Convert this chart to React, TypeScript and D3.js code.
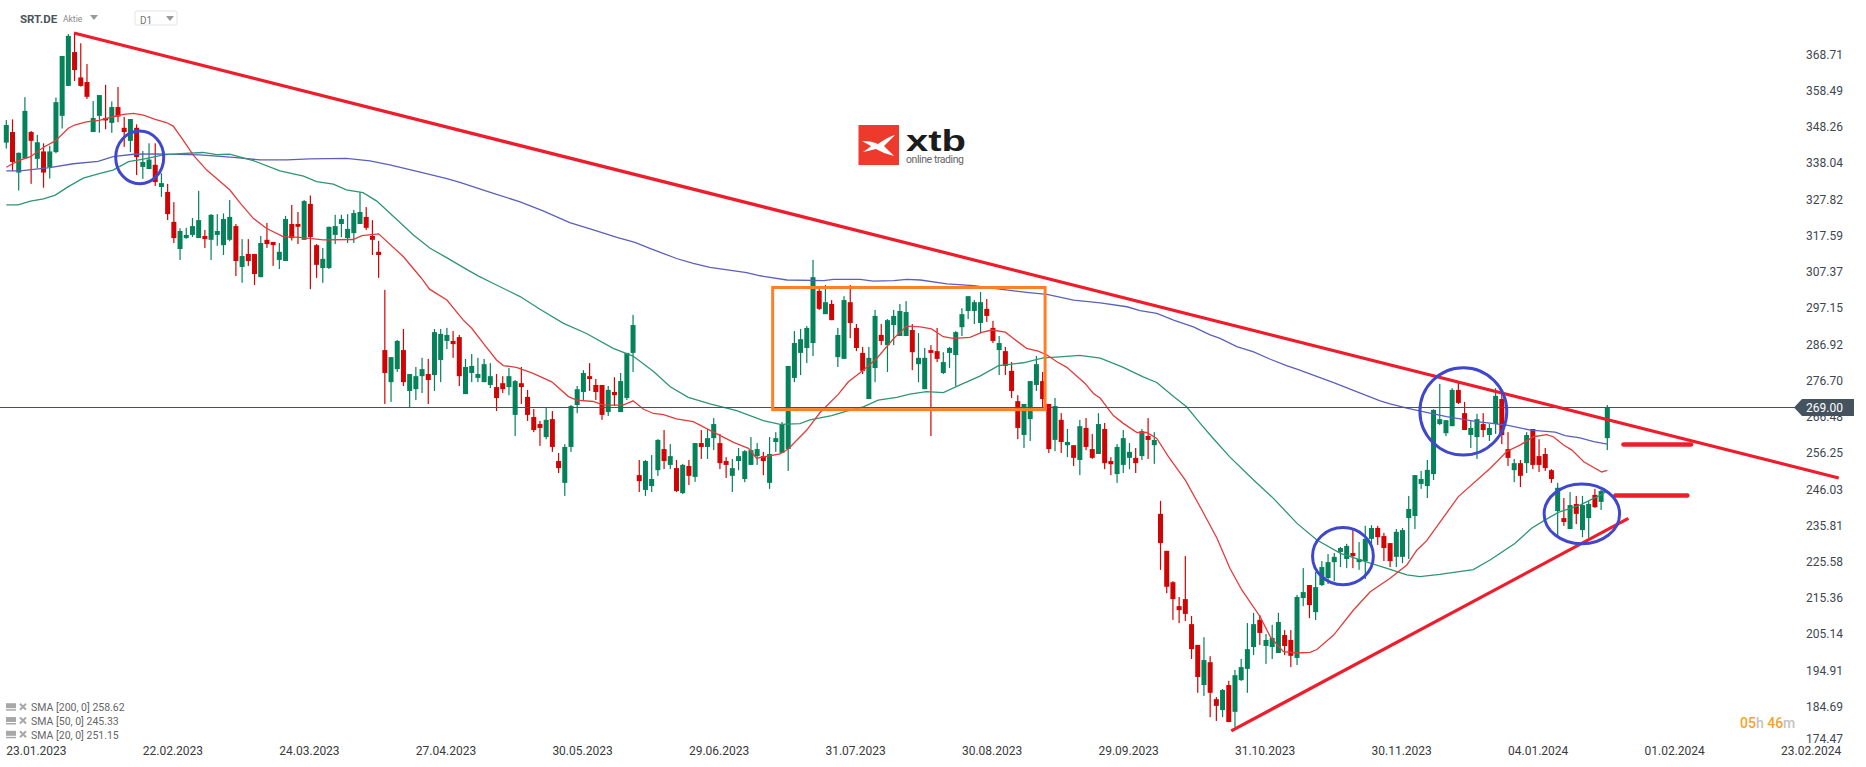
import React, { useEffect, useRef } from 'react';
import * as d3 from 'd3';

const opens = [
  344.2,347.2,335.7,339.7,347.2,339.6,341.7,337.2,341.5,351.8,
  360.3,369.9,362.7,361.4,347.2,351.8,351.2,349.8,354.3,348.4,
  344.7,348.4,337.3,336.7,337.9,331.6,330.2,321.7,314,317.1,
  318,317.1,317.7,316.6,318,315.1,316.6,320.5,308.9,312.6,
  312.6,306,316.6,316,310.9,310.6,321.1,321.1,316.6,326.8,
  315.1,308.6,308.6,318,321.1,317.1,318.5,321.1,323.1,317.7,
  313.2,285.3,276.2,279.9,285.3,273.7,274.2,277.9,278.5,278.2,
  282.5,287.9,287.9,289,272.8,278.8,277.4,276.2,275.4,274.8,
  275.9,274.8,266.9,275.9,272,266.3,264.3,260.6,265.7,253.8,
  247.6,257.8,269.7,273.4,277.9,275.4,275.4,267.7,273.4,267.7,
  271.7,284.5,249.8,245.6,246.7,251.2,257.2,252.7,251.8,244.7,
  252.4,249.3,258.9,257.8,260.3,258.9,253.8,249.6,253.8,248.7,
  252.7,255.2,255.2,247.6,259.2,256.1,257.2,277.4,284.5,285.9,
  287.3,302.1,295.5,298.4,283.3,282.8,298.9,291.6,284.5,271.4,
  280.2,289.6,286.7,292.4,289.3,289.3,291,281.3,274.2,285.3,
  285,278.8,284.5,283.9,291.8,296.4,296.4,293,297,291.6,
  285.3,285,279.4,270.8,261.2,265.7,275.4,276.5,270,259.8,
  265.5,258.3,258.3,254.1,263.2,257.2,255.8,262.9,253.8,250.1,
  252.7,254.7,254.7,255.2,260.9,258.3,238.8,228.3,219.4,212.6,
  214.6,207.5,201.6,190.2,196.7,186.2,183.1,190.2,182.6,191.6,
  194.8,201,208.7,201.3,201,199.3,204.4,203,197.9,214.9,
  218.6,210.9,218.6,220.6,225.1,228,226,227.7,225.1,225.4,
  231.7,234.8,232.5,230.5,226.6,226.6,237.6,238.2,247.3,246.7,
  250.1,264.3,261.7,263.7,274,267.4,261.2,260.6,264.3,261.2,
  264.3,271.4,257.2,251.2,253.2,253.2,262.9,255.2,255.8,251.2,
  239.6,237.6,234.5,241.6,234.2,237.6,244.2,242.2,260.3,
];
const highs = [
  350.6,350.8,341.4,357.1,347.5,346.4,344,343.3,357,368.8,
  375,375.2,372.4,366.5,356,357.7,360.6,355.9,360,351.5,
  350.9,349.4,341.8,344,344,335.5,332.5,327.3,319.9,320,
  322.8,330.5,319.4,323.9,323.9,324.1,327.9,321.1,316.8,316.8,
  312.6,317.7,321.4,316,315.7,323.4,326.5,324.5,327.9,329.2,
  315.4,314.3,320.3,323.7,323.7,323.9,325.1,330.1,325.9,322.2,
  316.3,302.4,283.3,288.2,291.3,278.5,280.5,283.1,282.8,291.3,
  291.3,291.6,290.7,289.6,282.8,284.2,283.1,282.8,281.6,278.5,
  277.9,280.2,276.8,280.5,274,268.6,265.2,268.9,268,256.1,
  258.6,269.7,275.1,279.6,281.6,277.1,275.4,275.1,277.6,278.8,
  284.5,295.3,254.1,254.1,255.5,260,262.6,258.6,254.1,253,
  254.1,258.9,262.6,262.9,266,261.5,254.9,254.4,257.5,256.9,
  260.6,258.9,256.4,260.6,262,264.9,280.8,290.7,291.3,292.1,
  310.9,302.6,303.8,299.5,291.6,300.6,303.8,292.7,286.2,286.2,
  296.7,292.7,294.1,296.7,298.4,299.2,292.7,290.1,285.9,286.7,
  291.6,284.7,286.2,290.7,297.2,300.6,299.5,301.8,299.8,293.6,
  289.3,286.2,281.9,272.5,270,276.5,283.6,279.1,270,271.7,
  267.4,262.9,258.3,265.5,266,261.5,267.4,264.6,254.9,258.6,
  262.6,258.9,257.5,262.9,266,262,242.5,228.3,219.7,215.2,
  226.8,209.8,201.6,203.8,198.4,186.8,189.1,191.4,194.5,197.6,
  207.8,210.7,210.1,204.7,207.3,210.7,205.8,205.8,215.8,223.4,
  218.6,222.3,225.4,227.4,227.7,229.4,230.3,234.2,230.8,235.4,
  235.6,235.4,233.4,230.5,234.5,234.8,243.9,249.8,251,254.1,
  268.5,275.7,265.4,274.5,276.2,270.6,265.2,267.2,267.4,264.3,
  274.5,273,262,254.4,254.1,262,262.9,260,257.5,251.5,
  247.6,243.3,245,243.9,243.9,242.4,245.9,245.6,269.7,
];
const lows = [
  342.5,336.1,330.6,339.7,332.5,336.9,331.4,334,341.2,348.2,
  360.3,361.7,360.1,356.6,347.2,347,348,347,350,343,
  341.5,335,333.9,336.7,331.9,328.8,322.2,315.7,310.9,316.9,
  317.4,317.1,314.3,310.9,314.9,312.3,316.2,306.3,304.4,309.2,
  303.8,306,314.3,309.2,308.3,310.6,316.4,315.4,316.6,302.6,
  305.8,304.4,308.3,315.4,317.4,315.7,315.7,321.1,319.4,312.3,
  305.8,270,270.6,279.1,275.1,269,271.1,273.1,270,273.7,
  276.2,285.6,283.1,275.1,272.8,276.2,276.2,276.2,274.5,268,
  273.1,272.5,260.9,270,265.2,262,258.1,260,256.4,250.4,
  243.9,256.4,267.4,271.1,273.7,271.1,265.5,266.6,269.4,267.7,
  271.1,279.1,245,243.9,245,249.6,251.5,251.5,245,244.4,
  247,247.9,254.4,254.4,256.9,251.5,249,245,251.2,247.8,
  252.7,252.7,249.8,245.9,256.4,256.1,251,276.2,278.2,281.6,
  283.6,296.7,295.5,293.8,280.5,282.8,288.7,285,278.5,271.4,
  276.2,286.7,279.1,286.7,289.3,289.3,279.6,276.2,274.2,260.9,
  281.9,278.5,280.2,275.1,289.3,294.1,292.7,290.1,293.3,287.3,
  278.2,278.2,271.7,260,257.5,259.5,273.7,269,256.1,256.6,
  256.1,254.9,252.4,249.8,256.9,254.4,255.8,251.5,249.8,247.6,
  250.4,251.5,250.4,254.1,254.4,253,222.9,216.3,208.7,207.8,
  208.4,197.6,188,187.1,181.1,180,181.1,179.7,178.3,191.4,
  188,198.7,201.6,196.2,197.6,199.3,198.7,195.3,195.9,212.6,
  209.2,208.7,218.3,218.9,219.7,223.7,223.4,223.4,222.9,220.3,
  230.3,230,225.4,223.7,223.7,224.8,226,234.5,245.9,243.3,
  248.4,264,260.9,263.7,270,262.6,257.5,254.4,260.6,259.5,
  261.5,258.6,252.4,247.8,246.4,250.4,251.5,250.7,251,247.6,
  232.5,235.4,234.5,235.9,232.2,232,240.5,239.9,256.9,
];
const closes = [
  349.2,338.7,341.3,353.2,344.7,344.3,335.7,341.7,355.7,368.8,
  374.5,364.8,360.3,357.2,351.2,357.7,350.5,354.3,351.6,347.2,
  350.9,340.1,338.7,339.4,333,332.7,323.9,317.1,319.1,318,
  320.5,322.2,316.8,323.7,319.1,322.5,323.1,310.6,312,310.6,
  306.9,315.7,315.4,315.1,313.2,322.5,317.1,320.3,327.6,317.4,
  309.5,311.2,320.3,320.5,322.5,319.7,324.2,324.5,320,316.6,
  312.3,278.8,283.3,287.9,276.2,278.5,277.9,279.9,276.8,290.4,
  289.9,289.6,287,277.9,280.5,280.8,278.5,281.3,277.9,271.7,
  274.2,277.9,276.5,274.8,266.9,262.6,263.2,265.5,257.8,251.8,
  257.8,269.4,274.2,278.8,277.1,273.4,266.9,274,272.5,276.5,
  284.5,292.4,248.1,253.8,248.7,259.8,253.8,255.2,245.3,252.7,
  249.6,258.9,257.8,260.3,264.3,253.2,252.7,251.8,255.2,256.6,
  256.9,257.2,253.8,255.8,260.3,264.3,280.8,287.3,288.4,291.6,
  306,297,298.9,293.8,289.6,299.5,293,285.9,279.4,283.1,
  295,287.9,293.8,295,296.4,296.1,284.7,283.1,283.1,284.5,
  282.8,281.9,285.9,290.4,295.5,300.6,298.9,298.9,295,287.9,
  287.3,280.8,273.7,263.2,270,276.5,281.3,271.4,257.2,269.4,
  259.2,259.2,254.7,263.7,257.8,254.7,264.3,253.2,252.9,257.8,
  260.3,256.4,253.2,262.3,259.8,259.8,230.5,218.1,214.6,211.5,
  210.4,200.4,192.5,197.3,188,184.3,188.8,179.7,193,195.3,
  200.4,207.5,205,203,203.6,208.1,201.3,198.5,215.2,216.6,
  212.9,218,223.7,225.1,226.6,229.1,229.7,226.8,226,231.7,
  234.8,232.2,229.1,225.4,233.7,234.2,240.2,249.8,248.7,251.3,
  268.3,265.7,265.4,274,270.3,262.6,263.2,265.7,262.6,263.2,
  272.3,261.2,254.7,253.2,249.6,261.2,252.7,252.7,251.8,248.7,
  246.2,236.5,241.3,238.8,241.3,241.6,240.7,245.3,269,
];

// moving averages as [candle index, price]
const sma20: [number, number][] = [
  [0,337.2],[1.9,339],[3.9,340.2],[6,342.9],[7.9,344.7],[10,348.3],[11,349.2],[12.9,350.1],[15,350.5],[16.9,351.4],
  [18.9,352.2],[20.5,352.5],[22.1,352],[24,350.8],[25.8,349.9],[26.9,348.9],[28.5,344.9],[30.1,340.7],[32.3,336.4],[36,330.8],
  [37.7,327],[39.8,322.7],[41.9,319.9],[44.6,317.5],[47.3,317.3],[51.1,316.6],[55.9,316.7],[57.3,317.8],[60,318.3],[64,311.8],
  [66.9,305.7],[68.2,302.6],[71,299.5],[73.65,293.8],[75,291.5],[77.1,286.7],[79,282.5],[80.1,280.9],[82.2,280.4],[84.9,278.7],
  [87.9,276.3],[90.6,272.1],[91.9,271.1],[94.6,270.7],[96.2,269.7],[99.4,269.7],[101,270.9],[102.7,268.5],[104.3,267.3],[105.9,267],
  [108,265.8],[110.7,265],[113.9,262.1],[117.2,259.1],[119.6,257.4],[120.9,254.6],[124.7,255.8],[126,257.2],[129,262.6],[131.1,267.5],
  [134.1,272.8],[135.7,276.3],[138.1,279.6],[140.3,283],[143,288.6],[145.1,292.1],[147.3,291.9],[149.1,291.3],[151,289.1],[152.6,288.6],
  [155.3,288.9],[157.2,290.3],[158.8,291],[161,290.4],[162.3,288.6],[164.4,285.8],[166.3,285],[167.7,283.9],[169.3,282],[170.9,280.4],
  [173.8,275.9],[175.2,273],[176.3,271.6],[178.4,266.7],[180,264.5],[182.2,261.9],[183.8,261.9],[185.4,260.2],[187.3,255],[190,248.4],
  [192.6,240.1],[195.1,231.9],[197.2,223.3],[199.1,217.2],[202.05,209.6],[203.7,203.9],[205.8,199.7],[208,199.3],[210.1,199.5],[211.2,200.3],
  [213.9,204.4],[217.1,211.5],[219.8,216.7],[223,220.5],[225.7,224.3],[227.3,228.5],[228.9,231.2],[231.1,236.6],[234,243.7],[239.1,251.7],
  [241.8,256.5],[244,258.4],[246.1,260.7],[248.2,261.3],[249.3,260.7],[250.9,258.4],[252.3,256.9],[254.2,253.6],[257.1,250.7],[258,251.15],
];
const sma50: [number, number][] = [
  [0,326.5],[1.9,326.5],[3.9,327.6],[6,328.2],[7.9,329.3],[10,331.7],[12.4,334.1],[15.1,335.5],[17.2,336.4],[19.7,338.8],
  [22.1,339.5],[25.3,340.7],[28,341.1],[31.7,341.4],[33.9,340.8],[36,340.9],[39.8,339.1],[44.1,336.2],[47.9,334.7],[50,333.1],
  [52.7,332.4],[54.8,330.8],[57.5,330],[59.7,327.6],[62.4,323.2],[65.6,318],[68.3,314.2],[71.1,311.4],[73.9,308.5],[76.1,306.3],
  [78.5,304.2],[82.8,300.5],[86,296.9],[89.8,292.9],[93.5,290],[97.8,285.8],[101,283.6],[104.3,279.2],[107,274.9],[109.9,271.9],
  [113.4,270],[117.7,268.1],[122,265.3],[124.7,264.2],[127.9,264.4],[129.5,265.5],[133,266.7],[135.7,268.1],[138.1,269.2],[140.5,271.1],
  [143.5,271.9],[145.6,272.8],[148.3,273.5],[151,273.2],[153.7,275.4],[156.9,277.9],[159.9,280.9],[163.9,281.7],[167.1,283.1],[169.8,283.4],
  [173,283.8],[176.3,283],[180,280.4],[183.2,277.7],[185.4,276.1],[188.1,272.1],[190.2,269.2],[192.4,264.5],[194.5,260.2],[197.2,254.9],
  [201,248.4],[204.2,243.2],[208,236.1],[211.2,231.4],[215,227.6],[219.8,224.8],[222.5,223.3],[225.7,221.5],[227.8,221],[231,221.6],
  [236.4,223],[239.1,225.7],[243.1,230.4],[245.8,234.7],[248,237.1],[250.1,239.2],[253.6,241.3],[255.8,243.2],[257,244.2],[258,245.33],
];
const sma200: [number, number][] = [
  [0,336.2],[2.2,336.2],[7,337.1],[10.8,338.2],[14.8,338.9],[17.2,340.2],[20.5,340.9],[24.2,341],[31.2,340.7],[36.6,340],
  [40.9,339.3],[45.2,339.3],[48.9,339.6],[54.8,339.7],[58.6,339],[61.8,337.9],[66.7,335.8],[71,334],[73.1,332.9],[78.5,329.8],
  [82.8,327.4],[86.5,324.8],[90.8,321.5],[94.6,319.4],[98.4,317.3],[101.3,315.9],[103.7,314.2],[108,311.3],[110.7,309.9],[113.4,308.8],
  [119.3,307.3],[121.5,306.4],[125.8,305.2],[131.7,305],[133.3,305.4],[137.6,305.4],[139.7,304.9],[143,305],[145.1,305.4],[147.3,305.2],
  [151.6,304.1],[155.9,303.6],[160.1,302.6],[164.4,301.7],[167.7,301.1],[172,299.5],[176.3,298.7],[180.6,297.6],[182.7,296.5],[185.4,295.7],
  [188.1,293.8],[191.3,291.9],[194,289.6],[195.6,288.6],[198.3,286.3],[201,284.8],[203.7,282.7],[206.3,280.9],[208.1,279.8],[214,276],
  [218,273.2],[221.4,270.9],[223,270],[225.7,268.8],[229.4,267.4],[232.1,266.4],[237,265],[241.8,264],[245.6,262.6],[249.6,262],
  [251.2,261],[253.6,260.4],[255.8,259.3],[258,258.62],
];

const priceTicks = [368.71,358.49,348.26,338.04,327.82,317.59,307.37,297.15,286.92,276.7,266.48,256.25,246.03,235.81,225.58,215.36,205.14,194.91,184.69,174.47];
const dateLabels = ['23.01.2023','22.02.2023','24.03.2023','27.04.2023','30.05.2023','29.06.2023','31.07.2023','30.08.2023','29.09.2023','31.10.2023','30.11.2023','04.01.2024','01.02.2024','23.02.2024'];
const legendRows = ['SMA [200, 0] 258.62', 'SMA [50, 0] 245.33', 'SMA [20, 0] 251.15'];
const lastPrice = 269;

// drawn annotations, in [candle index, price]
const trendDown: [number, number][] = [[10.9,375.3],[295.3,249.0]];
const trendUp: [number, number][] = [[197.4,177.2],[261.4,237.5]];
const levelLines: [number, number, number][] = [[260.6,271.5,258.5],[259.3,270.9,244.0]];
const boxRange = { i0: 123.5, i1: 167.4, top: 303.07, bottom: 268.4 };
// [centre index, centre price, half width in candles, half height in price]
const circles: [number, number, number, number][] = [
  [21.5,340.0,3.87,7.5],
  [215.4,226.8,4.9,8.1],
  [234.8,267.9,7.0,12.4],
  [253.9,238.8,6.08,8.5],
];

const GREEN = '#06825a';
const RED = '#cf0505';
const FONT = 'Roboto, sans-serif';

const App: React.FC = () => {
  const chartRef = useRef<SVGSVGElement | null>(null);

  useEffect(() => {
    if (!chartRef.current) return;
    const svg = d3.select(chartRef.current);
    svg.selectAll('*').remove();

    const x = d3.scaleLinear().domain([0, 258]).range([6.3, 1607.3]);
    const y = d3.scaleLinear().domain([269, 169]).range([407.5, 759.74]);
    // the printed price labels sit on their own slightly wider spacing
    const labelY = d3.scaleLinear().domain([368.71, 184.69]).range([54.4, 706.8]);

    // Logo
    const logo = svg.append('g');
    logo.append('rect').attr('x', 858.5).attr('y', 125).attr('width', 40.5).attr('height', 40).attr('fill', '#ee3a2c');
    logo.append('path')
      .attr('d', 'M862 141 C869 141 874 142 878 144 C884 140 888 137 895 135 C890 140 887 143 884 146 C887 149 891 153 894 156 C887 154 881 152 876 149 C872 150 868 151 863 152 C866 150 869 148 871 146 C868 144 865 143 862 141Z')
      .attr('fill', '#fff');
    logo.append('text').attr('x', 906).attr('y', 151).attr('font-family', 'Liberation Sans, Arial, sans-serif')
      .attr('font-weight', 700).attr('font-size', 30).attr('textLength', 60).attr('lengthAdjust', 'spacingAndGlyphs')
      .attr('fill', '#1c1c1c').text('xtb');
    logo.append('text').attr('x', 906).attr('y', 163).attr('font-family', FONT).attr('font-size', 10.5)
      .attr('textLength', 58).attr('fill', '#666').text('online trading');

    // Candles
    const candles = d3.range(opens.length);
    const colorOf = (i: number) => (closes[i] >= opens[i] ? GREEN : RED);
    const g = svg.append('g');
    g.selectAll('rect.wick').data(candles).enter().append('rect')
      .attr('x', (i) => x(i) - 0.6)
      .attr('width', 1.2)
      .attr('y', (i) => y(highs[i]))
      .attr('height', (i) => y(lows[i]) - y(highs[i]))
      .attr('fill', colorOf);
    g.selectAll('rect.body').data(candles).enter().append('rect')
      .attr('x', (i) => x(i) - 2.5)
      .attr('width', 5)
      .attr('y', (i) => y(Math.max(opens[i], closes[i])))
      .attr('height', (i) => Math.max(1.5, Math.abs(y(opens[i]) - y(closes[i]))))
      .attr('fill', colorOf);

    // Moving averages
    const line = d3.line<[number, number]>().x((d) => x(d[0])).y((d) => y(d[1]));
    [
      { data: sma200, color: '#5b60ba' },
      { data: sma50, color: '#2f9573' },
      { data: sma20, color: '#e23c3c' },
    ].forEach((s) => {
      svg.append('path').attr('d', line(s.data)).attr('fill', 'none')
        .attr('stroke', s.color).attr('stroke-width', 1.3);
    });

    // Last price line and badge
    const yLast = y(lastPrice);
    svg.append('line').attr('x1', 0).attr('x2', 1796).attr('y1', yLast).attr('y2', yLast)
      .attr('stroke', '#44535e').attr('stroke-width', 1);

    // Orange box
    svg.append('rect')
      .attr('x', x(boxRange.i0)).attr('y', y(boxRange.top))
      .attr('width', x(boxRange.i1) - x(boxRange.i0))
      .attr('height', y(boxRange.bottom) - y(boxRange.top))
      .attr('fill', 'none').attr('stroke', '#ff7f27').attr('stroke-width', 3);

    // Red lines
    const trend = d3.line<[number, number]>().x((d) => x(d[0])).y((d) => y(d[1]));
    [trendDown, trendUp].forEach((t) => {
      svg.append('path').attr('d', trend(t)).attr('fill', 'none')
        .attr('stroke', '#ef1c2c').attr('stroke-width', 3.2);
    });
    svg.selectAll('line.level').data(levelLines).enter().append('line')
      .attr('x1', (d) => x(d[0])).attr('x2', (d) => x(d[1]))
      .attr('y1', (d) => y(d[2])).attr('y2', (d) => y(d[2]))
      .attr('stroke', '#ef1c2c').attr('stroke-width', 4.5).attr('stroke-linecap', 'round');

    // Blue circles
    svg.selectAll('ellipse').data(circles).enter().append('ellipse')
      .attr('cx', (d) => x(d[0])).attr('cy', (d) => y(d[1]))
      .attr('rx', (d) => x(d[0] + d[2]) - x(d[0]))
      .attr('ry', (d) => y(d[1] - d[3]) - y(d[1]))
      .attr('fill', 'none').attr('stroke', '#3f48cc').attr('stroke-width', 3);

    // Price axis
    svg.selectAll('text.price').data(priceTicks).enter().append('text')
      .attr('x', 1806).attr('y', (d) => Math.min(labelY(d), 738.5))
      .attr('dy', '0.35em').attr('font-family', FONT).attr('font-size', 12)
      .attr('fill', '#3e4750').text((d) => d.toFixed(2));

    svg.append('path')
      .attr('d', `M1794 ${yLast} L1802 ${yLast - 8.5} L1854 ${yLast - 8.5} L1854 ${yLast + 8.5} L1802 ${yLast + 8.5} Z`)
      .attr('fill', '#44535e');
    svg.append('text').attr('x', 1806).attr('y', yLast).attr('dy', '0.35em')
      .attr('font-family', FONT).attr('font-size', 12).attr('fill', '#fff').text(lastPrice.toFixed(2));

    // Date axis, one label every 22 candles
    svg.selectAll('text.date').data(dateLabels).enter().append('text')
      .attr('x', (_, i) => x(i * 22)).attr('y', 750.7).attr('dy', '0.35em')
      .attr('font-family', FONT).attr('font-size', 12).attr('fill', '#3a3a3a').text((d) => d);

    // Indicator legend
    legendRows.forEach((row, i) => {
      const ly = 707.7 + i * 13.8;
      const item = svg.append('g');
      item.append('rect').attr('x', 6).attr('y', ly - 4.5).attr('width', 10).attr('height', 5).attr('fill', '#a8a8a8');
      item.append('rect').attr('x', 6).attr('y', ly + 1.5).attr('width', 10).attr('height', 1.5).attr('fill', '#a8a8a8');
      item.append('path').attr('d', `M20 ${ly - 4} L26 ${ly + 2} M26 ${ly - 4} L20 ${ly + 2}`)
        .attr('stroke', '#a8a8a8').attr('stroke-width', 2);
      item.append('text').attr('x', 31).attr('y', ly).attr('dy', '0.35em')
        .attr('font-family', FONT).attr('font-size', 10.5).attr('fill', '#666').text(row);
    });

    // Header
    svg.append('text').attr('x', 20).attr('y', 19).attr('dy', '0.35em').attr('font-family', FONT)
      .attr('font-weight', 700).attr('font-size', 11.5).attr('fill', '#4a555e').text('SRT.DE');
    svg.append('text').attr('x', 63).attr('y', 19).attr('dy', '0.35em').attr('font-family', FONT)
      .attr('font-size', 8.5).attr('fill', '#888').text('Aktie');
    svg.append('path').attr('d', 'M90 15 L98 15 L94 20 Z').attr('fill', '#999');
    svg.append('rect').attr('x', 135).attr('y', 11).attr('width', 42).attr('height', 14).attr('rx', 2)
      .attr('fill', '#fff').attr('stroke', '#e2e2e2');
    svg.append('text').attr('x', 140).attr('y', 20).attr('dy', '0.35em').attr('font-family', FONT)
      .attr('font-size', 10).attr('fill', '#777').text('D1');
    svg.append('path').attr('d', 'M166 16 L174 16 L170 21 Z').attr('fill', '#999');

    // Countdown
    const timer = svg.append('text').attr('x', 1740).attr('y', 723).attr('dy', '0.35em')
      .attr('font-family', FONT).attr('font-weight', 500).attr('font-size', 14);
    [['05', '#f9a22b'], ['h ', '#c4c4c4'], ['46', '#f9a22b'], ['m', '#c4c4c4']].forEach(([t, c]) => {
      timer.append('tspan').attr('fill', c).text(t);
    });

    return () => {
      svg.selectAll('*').remove();
    };
  }, []);

  return (
    <svg
      ref={chartRef}
      width={1866}
      height={767}
      style={{ position: 'absolute', left: 0, top: 0, background: '#fff' }}
    />
  );
};

export default App;
